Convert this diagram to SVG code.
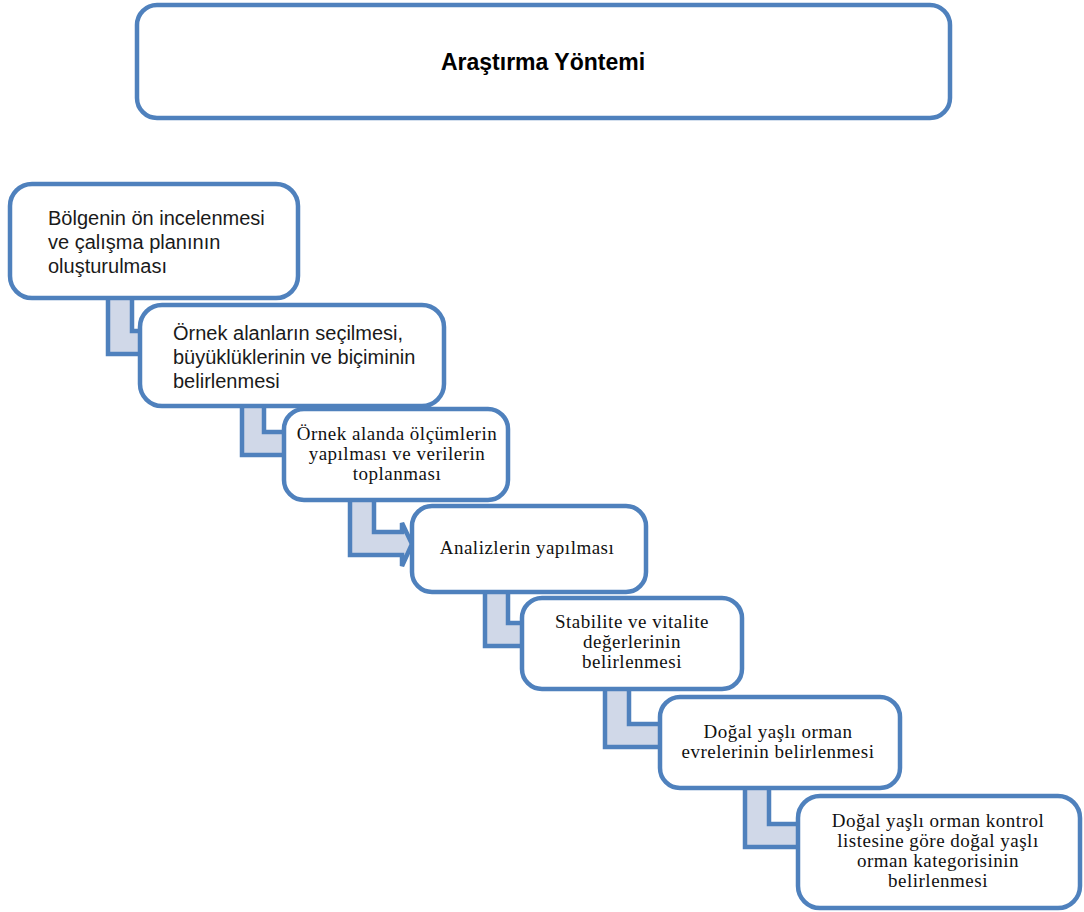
<svg xmlns="http://www.w3.org/2000/svg" width="1084" height="912" viewBox="0 0 1084 912">
<style>
.box{fill:#ffffff;stroke:#4F81BD;stroke-width:4.5}
.conn{fill:#D0D8E8;stroke:#4F81BD;stroke-width:4.5;stroke-linejoin:miter}
.sans{font-family:"Liberation Sans",Arial,sans-serif;font-size:20px;fill:#1a1a1a}
.serif{font-family:"Liberation Serif","Times New Roman",serif;font-size:19px;letter-spacing:0.5px;fill:#111;text-anchor:middle}
.title{font-family:"Liberation Sans",Arial,sans-serif;font-size:23px;font-weight:bold;fill:#000;text-anchor:middle}
</style>
<rect width="1084" height="912" fill="#ffffff"/>
<g id="connectors">
<polygon class="conn" points="108,295 132,295 132,331 150,331 150,321 162,342 150,364 150,354 108,354"/>
<polygon class="conn" points="242,402 264,402 264,432 296,432 296,422 308,443 296,465 296,455 242,455"/>
<polygon class="conn" points="350,495 374,495 374,532 402,532 402,523 412,544 402,566 402,555 350,555"/>
<polygon class="conn" points="485,586 508,586 508,623 534,623 534,613 546,634 534,656 534,646 485,646"/>
<polygon class="conn" points="605,685 629,685 629,724 672,724 672,714 684,735 672,757 672,747 605,747"/>
<polygon class="conn" points="745,784 769,784 769,824 810,824 810,814 822,835 810,857 810,847 745,847"/>
</g>
<g id="title">
<rect class="box" x="137" y="5" width="813" height="113" rx="20"/>
<text class="title" x="543" y="70">Araştırma Yöntemi</text>
</g>
<g id="node1">
<rect class="box" x="10" y="184" width="288" height="114" rx="22"/>
<text class="sans" x="48" y="225">Bölgenin ön incelenmesi</text>
<text class="sans" x="48" y="249">ve çalışma planının</text>
<text class="sans" x="48" y="273">oluşturulması</text>
</g>
<g id="node2">
<rect class="box" x="140" y="305" width="304" height="101" rx="22"/>
<text class="sans" x="173" y="340">Örnek alanların seçilmesi,</text>
<text class="sans" x="173" y="364">büyüklüklerinin ve biçiminin</text>
<text class="sans" x="173" y="388">belirlenmesi</text>
</g>
<g id="node3">
<rect class="box" x="284" y="409" width="224" height="91" rx="20"/>
<text class="serif" x="397" y="440">Örnek alanda ölçümlerin</text>
<text class="serif" x="397" y="460">yapılması ve verilerin</text>
<text class="serif" x="397" y="480">toplanması</text>
</g>
<g id="node4">
<rect class="box" x="412" y="506" width="234" height="86" rx="20"/>
<text class="serif" x="527" y="554">Analizlerin yapılması</text>
</g>
<g id="node5">
<rect class="box" x="522" y="598" width="220" height="91" rx="20"/>
<text class="serif" x="632" y="628">Stabilite ve vitalite</text>
<text class="serif" x="632" y="648">değerlerinin</text>
<text class="serif" x="632" y="668">belirlenmesi</text>
</g>
<g id="node6">
<rect class="box" x="660" y="697" width="240" height="91" rx="20"/>
<text class="serif" x="778" y="738">Doğal yaşlı orman</text>
<text class="serif" x="778" y="758">evrelerinin belirlenmesi</text>
</g>
<g id="node7">
<rect class="box" x="798" y="796" width="282" height="112" rx="22"/>
<text class="serif" x="938" y="827">Doğal yaşlı orman kontrol</text>
<text class="serif" x="938" y="847">listesine göre doğal yaşlı</text>
<text class="serif" x="938" y="867">orman kategorisinin</text>
<text class="serif" x="938" y="887">belirlenmesi</text>
</g>
</svg>
